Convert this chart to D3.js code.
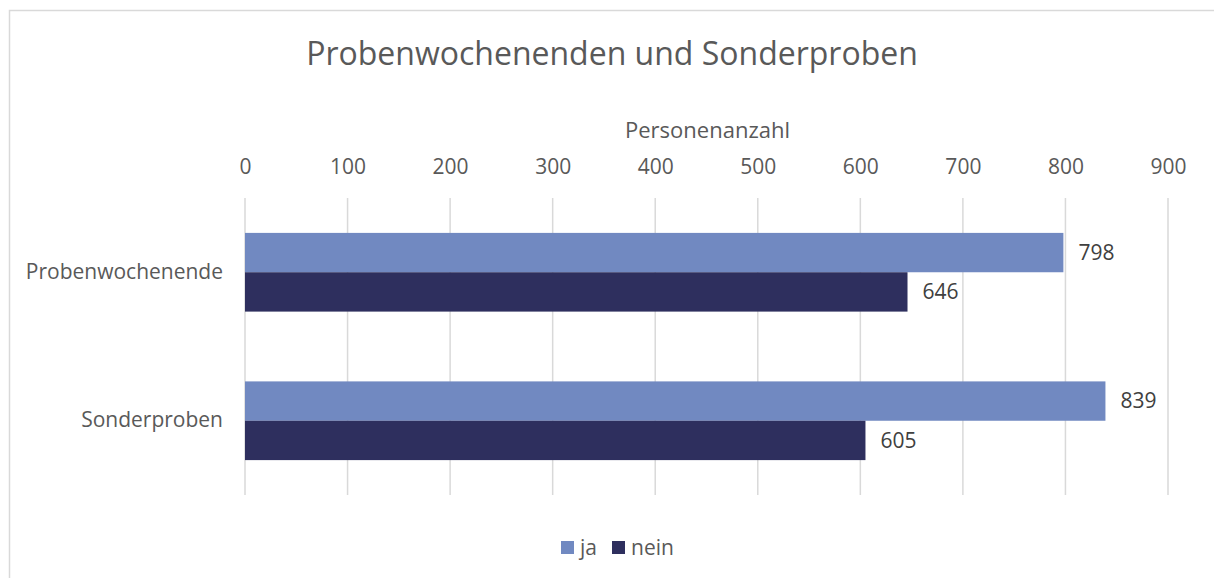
<!doctype html>
<html lang="de">
<head>
  <meta charset="utf-8">
  <title>Probenwochenenden und Sonderproben</title>
  <style>
    * { margin: 0; padding: 0; box-sizing: border-box; }
    body { background: #fff; }
    svg { display: block; font-family: "Open Sans", "Noto Sans", sans-serif; }
  </style>
</head>
<body>
  <div class="chart"></div>
  <script src="https://cdn.jsdelivr.net/npm/d3@7/dist/d3.min.js"></script>
  <script>
    // ---------------------------------------------------------------
    //@@ data
    const categories = ['Probenwochenende', 'Sonderproben'];
    const seriesNames = ['ja', 'nein'];
    const jaValues = [798, 839];
    const neinValues = [646, 605];
    const xTicks = [0, 100, 200, 300, 400, 500, 600, 700, 800, 900];
    const colors = ['#7189c1', '#2e2f5e'];

    const rows = categories.map((c, i) => ({
      cat: c,
      vals: [
        {series: 'ja', value: jaValues[i]},
        {series: 'nein', value: neinValues[i]}
      ]
    }));

    // ---------------------------------------------------------------
    //@@ svg configuration
    const W = 1214, H = 578;
    const plot = {l: 245, r: 1168, t: 198, b: 495};
    const labelSize = '21px';

    const svg = d3.select('.chart').append('svg')
      .attr('width', W)
      .attr('height', H);

    //@@ frame (only top and left edges visible)
    svg.append('path')
      .attr('d', `M9.5,${H} V10.5 H${W}`)
      .attr('fill', 'none')
      .attr('stroke', '#d9d9d9')
      .attr('stroke-width', 1.5);

    //@@ scales
    const x = d3.scaleLinear().domain([0, 900]).range([plot.l, plot.r]);
    const y = d3.scaleBand().domain(categories).range([plot.t, plot.b])
      .paddingInner(0.47).paddingOuter(0.235);
    const ySub = d3.scaleBand().domain(seriesNames).range([0, y.bandwidth()]);
    const color = d3.scaleOrdinal().domain(seriesNames).range(colors);

    //@@ gridlines
    svg.append('g')
      .selectAll('line')
      .data(xTicks)
      .join('line')
      .attr('x1', d => x(d)).attr('x2', d => x(d))
      .attr('y1', plot.t).attr('y2', plot.b)
      .attr('stroke', '#d9d9d9')
      .attr('stroke-width', 1.5);

    //@@ top axis
    const axisX = d3.axisTop(x).tickValues(xTicks).tickSize(0).tickPadding(0);
    const gx = svg.append('g')
      .attr('transform', `translate(0,${plot.t - 24})`)
      .call(axisX);
    gx.select('.domain').remove();
    gx.selectAll('text')
      .attr('fill', '#595959')
      .style('font-size', labelSize)
      .style('font-family', '"Open Sans", "Noto Sans", sans-serif');

    //@@ category axis
    const axisY = d3.axisLeft(y).tickSize(0).tickPadding(22);
    const gy = svg.append('g')
      .attr('transform', `translate(${plot.l},0)`)
      .call(axisY);
    gy.select('.domain').remove();
    gy.selectAll('text')
      .attr('fill', '#595959')
      .style('font-size', labelSize)
      .style('font-family', '"Open Sans", "Noto Sans", sans-serif');

    //@@ bars
    const groups = svg.append('g')
      .selectAll('g')
      .data(rows)
      .join('g')
      .attr('transform', d => `translate(0,${y(d.cat)})`);

    groups.selectAll('rect')
      .data(d => d.vals)
      .join('rect')
      .attr('x', x(0))
      .attr('y', d => ySub(d.series))
      .attr('width', d => x(d.value) - x(0))
      .attr('height', ySub.bandwidth())
      .attr('fill', d => color(d.series));

    //@@ value labels
    groups.selectAll('text')
      .data(d => d.vals)
      .join('text')
      .attr('x', d => x(d.value) + 15)
      .attr('y', d => ySub(d.series) + ySub.bandwidth() / 2)
      .attr('dy', '0.35em')
      .attr('fill', '#404040')
      .style('font-size', labelSize)
      .text(d => d.value);

    //@@ titles
    svg.append('text')
      .attr('x', 612).attr('y', 65)
      .attr('text-anchor', 'middle')
      .attr('fill', '#595959')
      .style('font-size', '32px')
      .text('Probenwochenenden und Sonderproben');

    svg.append('text')
      .attr('x', (plot.l + plot.r) / 2 + 1).attr('y', 138)
      .attr('text-anchor', 'middle')
      .attr('fill', '#595959')
      .style('font-size', '22px')
      .text('Personenanzahl');

    //@@ legend
    const legend = svg.append('g').attr('transform', 'translate(561,541)');
    const items = legend.selectAll('g')
      .data(seriesNames)
      .join('g')
      .attr('transform', (d, i) => `translate(${i * 51},0)`);
    items.append('rect')
      .attr('width', 13).attr('height', 13)
      .attr('fill', d => color(d));
    items.append('text')
      .attr('x', 19).attr('y', 7)
      .attr('dy', '0.35em')
      .attr('fill', '#595959')
      .style('font-size', labelSize)
      .text(d => d);
  </script>
</body>
</html>
